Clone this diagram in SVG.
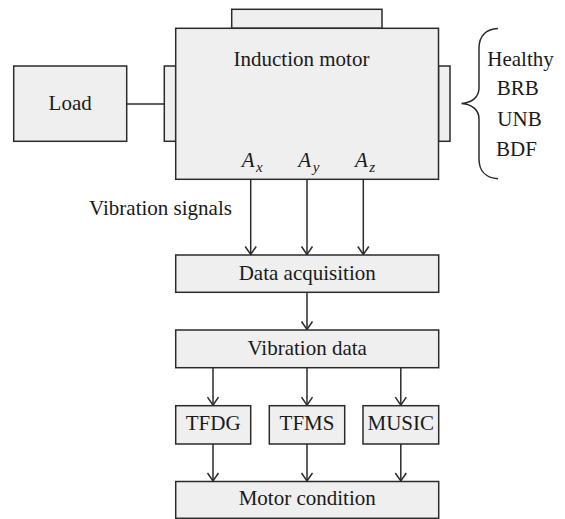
<svg xmlns="http://www.w3.org/2000/svg" width="565" height="519" viewBox="0 0 565 519">
<style>
.box{fill:#eeefee;stroke:#2b2b2b;stroke-width:1.5}
.t{font-family:"Liberation Serif","Times New Roman",serif;font-size:21px;fill:#1a1a1a}
.c{text-anchor:middle}
.i{font-style:italic}
.ln{fill:none;stroke:#2b2b2b;stroke-width:1.5}
</style>
<defs>
<marker id="ah" markerUnits="userSpaceOnUse" markerWidth="12" markerHeight="12" refX="0" refY="0" orient="auto" overflow="visible">
<path d="M-8,-5.5 L0,0 L-8,5.5" fill="none" stroke="#2b2b2b" stroke-width="1.5"/>
</marker>
</defs>
<rect width="565" height="519" fill="#ffffff"/>
<g id="connectors">
<line class="ln" x1="126.7" y1="104" x2="164.3" y2="104"/>
<line class="ln" x1="250.7" y1="179.3" x2="250.7" y2="254.5" marker-end="url(#ah)"/>
<line class="ln" x1="307" y1="179.3" x2="307" y2="254.5" marker-end="url(#ah)"/>
<line class="ln" x1="363.3" y1="179.3" x2="363.3" y2="254.5" marker-end="url(#ah)"/>
<line class="ln" x1="307" y1="292.3" x2="307" y2="329.5" marker-end="url(#ah)"/>
<line class="ln" x1="213" y1="367.7" x2="213" y2="405.2" marker-end="url(#ah)"/>
<line class="ln" x1="307" y1="367.7" x2="307" y2="405.2" marker-end="url(#ah)"/>
<line class="ln" x1="400.8" y1="367.7" x2="400.8" y2="405.2" marker-end="url(#ah)"/>
<line class="ln" x1="213" y1="444" x2="213" y2="481" marker-end="url(#ah)"/>
<line class="ln" x1="307" y1="444" x2="307" y2="481" marker-end="url(#ah)"/>
<line class="ln" x1="400.8" y1="444" x2="400.8" y2="481" marker-end="url(#ah)"/>
</g>
<g id="load">
<rect class="box" x="13.7" y="66" width="113" height="75.3"/>
<text class="t c" x="70.2" y="109.5">Load</text>
</g>
<g id="motor">
<rect class="box" x="231.7" y="9.3" width="150.3" height="19"/>
<rect class="box" x="164.3" y="66" width="11.4" height="75.3"/>
<rect class="box" x="438.5" y="66" width="11.5" height="75.3"/>
<rect class="box" x="175.7" y="28.3" width="262.8" height="151"/>
<text class="t c" x="301.5" y="65.7">Induction motor</text>
<text class="t i" x="241.7" y="166.7">A<tspan font-size="15" dx="1.5" dy="5">x</tspan></text>
<text class="t i" x="298.3" y="166.7">A<tspan font-size="15" dx="1.5" dy="5">y</tspan></text>
<text class="t i" x="355" y="166.7">A<tspan font-size="15" dx="1.5" dy="5">z</tspan></text>
</g>
<g id="conditions">
<path class="ln" d="M498,28.5 C486,29 479,36 479,48 L479,88 C479,97 472,103 461.5,103.5 C472,104.2 479,110 479,119 L479,159 C479,171 486,178 498,178.8"/>
<text class="t c" x="520.5" y="65.5">Healthy</text>
<text class="t c" x="517.8" y="95">BRB</text>
<text class="t c" x="519.5" y="126.3">UNB</text>
<text class="t c" x="516.5" y="156">BDF</text>
</g>
<g id="signals-label">
<text class="t c" x="160.5" y="215">Vibration signals</text>
</g>
<g id="data-acquisition">
<rect class="box" x="175.7" y="255" width="263" height="37.3"/>
<text class="t c" x="307.2" y="279.5">Data acquisition</text>
</g>
<g id="vibration-data">
<rect class="box" x="175.7" y="330" width="263" height="37.7"/>
<text class="t c" x="307.2" y="354.5">Vibration data</text>
</g>
<g id="tfdg">
<rect class="box" x="175.7" y="405.7" width="75" height="38.3"/>
<text class="t c" x="213.2" y="430">TFDG</text>
</g>
<g id="tfms">
<rect class="box" x="269.3" y="405.7" width="75.4" height="38.3"/>
<text class="t c" x="307" y="430">TFMS</text>
</g>
<g id="music">
<rect class="box" x="363" y="405.7" width="75.7" height="38.3"/>
<text class="t c" x="400.8" y="430">MUSIC</text>
</g>
<g id="motor-condition">
<rect class="box" x="175.7" y="481.5" width="263" height="36.8"/>
<text class="t c" x="307.2" y="505">Motor condition</text>
</g>
</svg>
